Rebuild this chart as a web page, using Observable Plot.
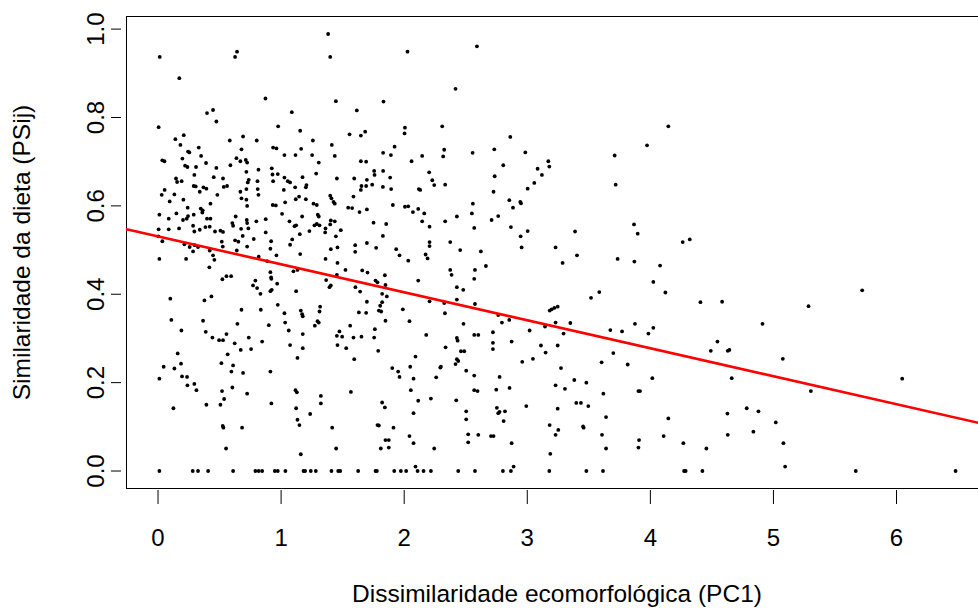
<!DOCTYPE html>
<html>
<head>
<meta charset="utf-8">
<script src="https://cdn.jsdelivr.net/npm/d3@7"></script>
<script src="https://cdn.jsdelivr.net/npm/@observablehq/plot@0.6"></script>
<style>
html, body { margin: 0; padding: 0; background: #ffffff; overflow: hidden; }
#chart { width: 978px; height: 608px; overflow: hidden; }
</style>
</head>
<body>
<div id="chart"></div>
<script>
// Dissimilaridade ecomorfológica (PC1) for each pair of species
const pc1 = [
  0.014,0.173,0.642,0.626,0.873,0.005,0.398,0.447,0.474,0.976,
  0.141,0.209,0.182,0.583,0.691,0.802,0.331,0.244,0.255,0.350,
  0.198,0.035,0.052,0.390,0.220,0.239,0.678,0.637,0.669,0.713,
  0.724,0.935,0.962,1.027,0.474,0.309,0.588,0.718,0.816,0.924,
  0.930,0.973,1.027,0.146,0.155,0.192,0.453,0.295,0.528,0.030,
  0.054,0.095,0.133,0.206,0.290,0.306,0.369,0.393,0.339,0.482,
  0.534,0.561,0.669,0.678,0.718,0.737,0.729,0.808,0.810,0.816,
  0.718,0.724,0.935,1.022,1.033,0.932,0.957,0.875,1.008,
  0.011,0.087,0.149,0.203,0.241,0.244,0.290,0.347,0.363,0.360,
  0.398,0.426,0.426,0.233,0.005,0.087,0.171,0.285,0.295,0.339,
  0.385,0.420,0.463,0.507,0.528,0.604,0.610,0.631,0.675,0.724,
  0.734,0.721,0.799,0.688,0.626,0.653,0.518,0.526,0.035,0.003,
  0.214,0.257,0.298,0.325,0.285,0.420,0.447,0.724,0.778,0.875,
  0.919,0.913,0.962,0.640,
  0.011,0.228,0.458,0.417,0.523,0.556,0.594,0.791,0.772,
  0.805,0.832,0.913,0.919,0.921,0.913,0.924,0.968,0.818,0.886,
  0.100,0.377,0.434,0.108,0.366,0.190,0.388,0.442,0.496,0.528,
  0.556,0.623,0.645,0.678,0.737,0.756,0.672,0.835,0.846,0.900,
  0.973,1.027,1.033,0.160,0.046,0.133,0.187,0.011,0.195,
  0.236,0.239,0.295,0.312,0.566,0.515,0.596,0.610,0.691,0.604,
  0.520,0.537,0.507,0.393,0.125,0.724,0.913,0.921,0.526,0.531,
  0.683,0.553,
  1.382,1.399,2.027,1.445,1.832,1.087,1.615,1.155,1.556,1.648,
  1.683,2.006,2.003,1.258,1.412,1.922,1.163,1.117,1.252,1.436,
  1.829,1.892,2.146,1.306,1.648,1.691,2.060,1.285,1.756,1.759,
  1.829,2.203,1.054,1.073,1.174,1.206,1.201,1.114,1.453,1.594,
  1.697,1.653,1.648,1.691,1.740,1.827,1.886,1.894,2.228,2.244,
  2.119,2.130,1.119,1.146,1.201,1.263,1.290,1.399,1.409,1.426,
  1.436,1.588,1.545,1.577,1.637,1.697,1.908,2.006,2.033,2.114,
  2.071,2.163,1.068,1.171,1.109,1.122,1.152,1.230,1.271,1.290,
  1.298,1.306,1.312,1.361,1.358,1.399,1.404,1.436,1.485,1.445,
  1.751,1.854,1.827,2.146,2.206,1.090,1.073,1.155,1.404,1.458,
  1.602,1.602,1.697,1.772,1.935,1.962,2.174,2.206,2.206,
  1.100,1.133,1.122,1.361,1.458,1.523,1.366,1.404,1.393,1.453,
  1.604,1.642,1.659,1.702,1.767,1.783,1.843,1.848,1.821,1.859,
  1.697,1.632,1.691,1.794,1.813,1.805,1.821,1.848,2.033,
  2.114,2.190,2.206,1.989,2.043,1.160,1.171,1.176,1.317,1.312,
  1.296,1.306,1.274,1.062,1.176,1.073,1.176,1.133,1.453,1.474,
  1.496,1.561,1.588,1.653,1.458,1.529,1.762,1.756,1.789,1.594,
  2.179,2.092,2.049,1.903,1.951,1.962,2.076,2.260,2.293,1.117,
  1.128,1.122,1.133,1.149,1.323,1.323,1.236,1.567,1.821,1.843,
  2.054,2.114,2.217,2.076,1.415,1.447,1.160,1.783,1.794,1.913,
  1.848,1.875,1.875,1.810,2.043,2.076,2.244,2.092,
  2.591,2.417,2.309,2.862,2.325,2.317,2.556,2.732,2.984,2.805,
  3.171,3.179,3.084,3.119,2.735,3.057,3.003,2.333,2.726,2.854,
  2.943,2.949,2.884,2.558,2.550,2.428,2.333,2.764,2.710,2.569,
  2.867,3.003,2.946,3.388,2.374,2.455,2.623,2.954,3.230,3.404,
  3.287,2.664,2.374,2.385,2.575,2.569,2.428,2.480,2.428,2.575,
  2.325,2.331,2.482,2.764,2.794,2.854,3.182,3.198,3.220,3.247,
  3.230,3.350,3.518,3.144,3.019,3.295,2.569,2.602,2.721,2.428,
  2.434,2.336,2.721,2.721,2.873,3.111,3.149,3.247,2.461,2.488,
  2.428,2.439,2.417,2.298,2.504,2.959,3.046,3.274,2.569,2.775,
  3.382,3.480,3.230,3.306,2.569,2.596,2.748,2.856,2.423,2.992,
  3.247,2.753,2.764,2.775,2.819,2.808,2.504,2.504,2.520,2.520,
  2.602,2.705,2.726,2.873,3.182,3.252,3.230,3.187,3.398,3.436,
  3.496,3.453,3.458,2.889,
  4.146,3.973,3.710,3.718,3.867,3.897,4.263,4.320,
  3.734,3.870,4.079,4.024,4.122,3.585,4.407,4.583,4.911,3.875,
  3.675,3.770,3.984,4.024,4.545,4.491,4.629,4.642,3.699,3.604,
  3.816,5.076,4.661,4.016,3.618,3.903,3.916,4.783,4.878,4.626,
  3.640,4.146,5.019,3.607,4.108,4.629,4.837,3.908,3.903,3.640,
  4.268,4.455,5.081,5.095,
  5.285,5.721,5.304,6.046
];

// Similaridade da dieta (PSij), same order as pc1
const psij = [
  0.937,0.889,0.949,0.937,0.843,0.778,0.810,0.817,0.791,0.780,
  0.751,0.760,0.738,0.748,0.757,0.748,0.732,0.723,0.721,0.713,
  0.707,0.703,0.701,0.697,0.691,0.688,0.728,0.708,0.701,0.704,
  0.698,0.732,0.730,0.715,0.686,0.688,0.692,0.677,0.682,0.685,
  0.671,0.672,0.664,0.662,0.654,0.656,0.665,0.670,0.662,0.625,
  0.636,0.610,0.626,0.614,0.645,0.644,0.642,0.639,0.632,0.625,
  0.643,0.645,0.632,0.617,0.638,0.659,0.653,0.656,0.638,0.625,
  0.614,0.600,0.656,0.636,0.608,0.602,0.601,0.570,0.582,
  0.580,0.571,0.583,0.568,0.596,0.577,0.580,0.594,0.590,0.585,
  0.571,0.571,0.605,0.571,0.547,0.547,0.549,0.555,0.542,0.546,
  0.552,0.553,0.542,0.544,0.541,0.561,0.555,0.576,0.548,0.561,
  0.549,0.568,0.565,0.532,0.522,0.519,0.519,0.508,0.520,0.531,
  0.513,0.507,0.511,0.507,0.497,0.499,0.488,0.508,0.525,0.540,
  0.520,0.503,0.488,0.499,
  0.480,0.480,0.478,0.461,0.434,0.441,0.441,0.431,0.420,
  0.414,0.401,0.450,0.438,0.435,0.407,0.410,0.424,0.485,0.475,
  0.390,0.386,0.395,0.342,0.340,0.318,0.315,0.302,0.296,0.296,
  0.310,0.289,0.333,0.365,0.302,0.276,0.274,0.365,0.293,0.330,
  0.376,0.357,0.336,0.266,0.236,0.232,0.243,0.209,0.214,
  0.213,0.194,0.197,0.183,0.264,0.244,0.225,0.239,0.222,0.189,
  0.181,0.163,0.150,0.150,0.142,0.175,0.225,0.153,0.102,0.098,
  0.098,0.051,
  0.989,0.937,0.949,0.837,0.836,0.812,0.816,0.770,0.762,0.759,
  0.768,0.777,0.764,0.748,0.738,0.734,0.729,0.715,0.715,0.713,
  0.720,0.715,0.713,0.698,0.701,0.700,0.701,0.673,0.679,0.670,
  0.679,0.676,0.656,0.653,0.665,0.647,0.642,0.642,0.662,0.662,
  0.659,0.645,0.636,0.645,0.648,0.643,0.664,0.638,0.658,0.647,
  0.638,0.636,0.615,0.621,0.615,0.605,0.602,0.623,0.617,0.609,
  0.605,0.621,0.596,0.595,0.586,0.592,0.602,0.598,0.599,0.593,
  0.586,0.583,0.565,0.576,0.554,0.556,0.536,0.543,0.556,0.559,
  0.580,0.576,0.556,0.549,0.540,0.558,0.567,0.565,0.545,0.531,
  0.562,0.559,0.532,0.565,0.553,0.524,0.512,0.491,0.502,0.506,
  0.511,0.496,0.516,0.505,0.502,0.488,0.490,0.518,0.509,
  0.452,0.455,0.407,0.480,0.471,0.455,0.432,0.420,0.416,0.444,
  0.416,0.406,0.454,0.449,0.431,0.427,0.443,0.421,0.401,0.395,
  0.383,0.359,0.358,0.363,0.361,0.374,0.382,0.340,0.476,
  0.431,0.481,0.384,0.366,0.339,0.363,0.355,0.350,0.372,0.361,
  0.339,0.336,0.329,0.318,0.310,0.285,0.278,0.256,0.306,0.316,
  0.304,0.329,0.302,0.304,0.285,0.278,0.321,0.302,0.272,0.253,
  0.308,0.259,0.236,0.233,0.225,0.213,0.209,0.212,0.234,0.183,
  0.178,0.142,0.116,0.104,0.170,0.153,0.129,0.179,0.155,0.144,
  0.183,0.159,0.164,0.131,0.098,0.051,0.038,0.104,0.103,0.098,
  0.070,0.070,0.053,0.051,0.079,0.063,0.051,0.010,
  0.961,0.865,0.780,0.756,0.727,0.712,0.720,0.728,0.721,0.692,
  0.701,0.689,0.684,0.670,0.667,0.652,0.639,0.648,0.632,0.613,
  0.609,0.606,0.596,0.605,0.583,0.576,0.565,0.577,0.568,0.550,
  0.552,0.543,0.531,0.542,0.518,0.500,0.497,0.506,0.506,0.488,
  0.471,0.464,0.455,0.444,0.455,0.435,0.416,0.410,0.388,0.378,
  0.380,0.357,0.333,0.353,0.336,0.342,0.363,0.366,0.369,0.372,
  0.336,0.335,0.392,0.327,0.318,0.311,0.308,0.308,0.314,0.301,
  0.295,0.280,0.290,0.276,0.293,0.284,0.268,0.284,0.271,0.271,
  0.253,0.249,0.242,0.236,0.227,0.247,0.254,0.233,0.216,0.213,
  0.206,0.200,0.194,0.186,0.183,0.181,0.184,0.188,0.160,0.147,
  0.141,0.143,0.131,0.134,0.135,0.113,0.135,0.117,0.083,0.065,
  0.082,0.079,0.079,0.063,0.104,0.093,0.082,0.039,0.154,0.154,
  0.147,0.101,0.098,0.010,
  0.780,0.737,0.714,0.648,0.558,0.537,0.518,0.524,
  0.480,0.474,0.465,0.428,0.404,0.405,0.382,0.383,0.333,0.333,
  0.319,0.316,0.311,0.324,0.293,0.272,0.272,0.274,0.267,0.246,
  0.241,0.254,0.210,0.210,0.175,0.181,0.181,0.142,0.135,0.130,
  0.122,0.119,0.110,0.082,0.079,0.082,0.089,0.070,0.053,0.051,
  0.063,0.051,0.063,0.010,
  0.373,0.409,0.181,0.209
];

// PC1 of the pairs whose diet similarity is exactly 0
const pc1AtZero = [
  0.011,0.282,0.325,0.407,0.610,0.791,0.818,0.846,0.949,0.973,1.035,
  1.182,1.195,1.241,1.282,1.409,1.464,1.480,1.626,1.767,1.778,1.919,1.973,
  2.016,2.109,2.157,2.217,2.439,2.575,2.802,2.867,3.179,3.480,3.615,
  4.274,4.287,4.423,5.669,6.480
];

// fitted linear model PSij ~ PC1
const fitIntercept = 0.531;
const fitSlope = -0.0633;

const xTicks = [0, 1, 2, 3, 4, 5, 6];
const yTicks = [0, 0.2, 0.4, 0.6, 0.8, 1.0];
const xTitle = "Dissimilaridade ecomorfológica (PC1)";
const yTitle = "Similaridade da dieta (PSij)";

// build table
const n = Math.min(pc1.length, psij.length);
if (pc1.length !== psij.length) console.warn("length mismatch", pc1.length, psij.length);
const points = [];
for (let i = 0; i < n; i++) points.push({x: pc1[i], y: psij[i]});
for (const x of pc1AtZero) points.push({x, y: 0});

// R-style axis extension of 4% on each side
const xs = points.map(d => d.x), ys = points.map(d => d.y);
const xMin = d3.min(xs), xMax = d3.max(xs), yMin = d3.min(ys), yMax = d3.max(ys);
const xPad = (xMax - xMin) * 0.04, yPad = (yMax - yMin) * 0.04;
const xDomain = [xMin - xPad, xMax + xPad];
const yDomain = [yMin - yPad, yMax + yPad];
const fitLine = xDomain.map(x => ({x, y: fitIntercept + fitSlope * x}));

const font = "'Liberation Sans', Arial, Helvetica, sans-serif";

const chart = Plot.plot({
  width: 978,
  height: 608,
  marginLeft: 126,
  marginRight: -9,
  marginTop: 16,
  marginBottom: 120,
  style: {background: "white", color: "black", fontFamily: font, fontSize: "24px", overflow: "hidden"},
  x: {domain: xDomain},
  y: {domain: yDomain},
  marks: [
    Plot.frame({stroke: "black", strokeWidth: 1}),
    Plot.dot(points, {x: "x", y: "y", r: 1.9, fill: "black", stroke: null}),
    Plot.line(fitLine, {x: "x", y: "y", stroke: "#ff0000", strokeWidth: 2.6, clip: true}),
    Plot.axisX({ticks: xTicks, tickFormat: d3.format("d"), tickSize: 14, tickPadding: 24, dy: 2, fontSize: 24, label: null, stroke: "black"}),
    Plot.axisY({ticks: yTicks, tickFormat: d3.format(".1f"), tickRotate: -90, tickSize: 10, tickPadding: 8, dx: -5, fontSize: 24, label: null, stroke: "black"}),
    Plot.text([xTitle], {frameAnchor: "bottom", dy: 106, lineAnchor: "middle", textAnchor: "middle", fontSize: 24.5, fill: "black"}),
    Plot.text([yTitle], {frameAnchor: "left", dx: -104, rotate: -90, lineAnchor: "middle", textAnchor: "middle", fontSize: 24.5, fill: "black"})
  ]
});
document.getElementById("chart").appendChild(chart);
</script>
</body>
</html>
